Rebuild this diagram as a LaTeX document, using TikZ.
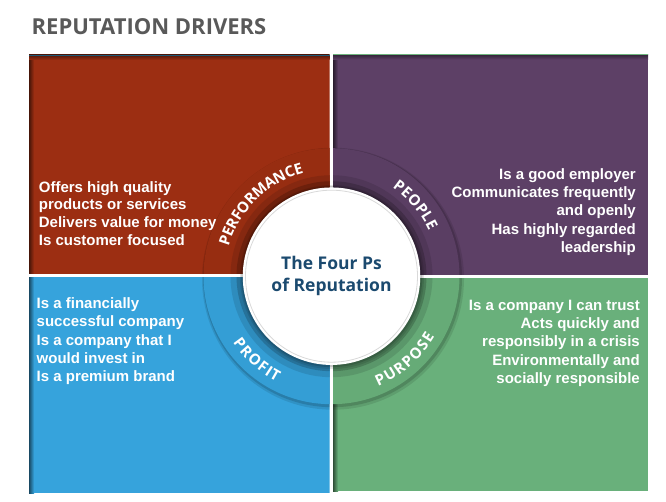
\documentclass[tikz,border=0pt]{standalone}
\usepackage{fontspec}
\setmainfont{Liberation Sans}
\newfontfamily\headfont{Open Sans}
\usetikzlibrary{decorations.text}
\definecolor{qred}{RGB}{156,46,18}
\definecolor{qpurple}{RGB}{93,64,102}
\definecolor{qblue}{RGB}{54,163,220}
\definecolor{qgreen}{RGB}{105,176,123}
\definecolor{titlegray}{RGB}{89,89,89}
\definecolor{navy}{RGB}{27,74,111}
\definecolor{edgeteal}{RGB}{30,90,120}
\definecolor{edgegreen}{RGB}{110,180,125}
\newcommand\quadpanel[5]{%
  \begin{scope}
    \clip (#2,#3) rectangle (#4,#5);
    \fill[#1] (#2,#3) rectangle (#4,#5);
    \shade[left color=#1!45!black, right color=#1] (#2,#3) rectangle (#2+5,#5);
    \fill[black,opacity=.10] (333,222.3) circle (131pt);
    \fill[black,opacity=.14] (332.5,223.3) circle (129.5pt);
    \fill[#1!97!black] (331.5,224.8) circle (128pt);
    \fill[#1!86!black] (331.5,224.8) circle (101pt);
    \fill[#1!70!black] (331.5,224.8) circle (95pt);
  \end{scope}}
\tikzset{
  quadtext/.style={text=white, inner sep=0pt},
  ringlabel/.style={decorate, decoration={text effects along path, text={#1},
      text effects/.cd, text along path, fit text to path,
      characters={text=white, inner sep=0pt, font=\headfont\bfseries\fontsize{15}{15}\selectfont}}},
}
\begin{document}
\begin{tikzpicture}[x=1pt,y=1pt]
\useasboundingbox (0,0) rectangle (666,501);
\fill[white] (0,0) rectangle (666,501);

\node[anchor=base west, inner sep=0pt, text=titlegray,
  font=\headfont\bfseries\fontsize{22}{27}\selectfont] (title) at (31.5,466) {REPUTATION DRIVERS};

% quadrants
\quadpanel{qred}{29}{227}{329.5}{446}
\quadpanel{qpurple}{333}{226}{648}{446.5}
\quadpanel{qblue}{29}{8}{329.5}{223.5}
\quadpanel{qgreen}{333}{10}{648}{222.5}

% top edges
\shade[top color=qred!55!black, bottom color=qred] (29,441) rectangle (329.5,446);
\fill[edgeteal] (29,445) rectangle (329.5,446.3);
\shade[top color=qpurple!55!black, bottom color=qpurple] (333,441.5) rectangle (648,446.5);
\fill[edgegreen] (333,445.6) rectangle (648,447);

% ring labels
\path[ringlabel={PERFORMANCE}] (331.5,224.8) ++(164:107pt) arc[start angle=164, end angle=105, radius=107pt];
\path[ringlabel={PEOPLE}] (331.5,224.8) ++(55.5:107.5pt) arc[start angle=55.5, end angle=25, radius=107.5pt];
\path[ringlabel={PROFIT}] (331.5,224.8) ++(214:119pt) arc[start angle=214, end angle=242.5, radius=119pt];
\path[ringlabel={PURPOSE}] (331.5,224.8) ++(293:119.5pt) arc[start angle=293, end angle=329.5, radius=119.5pt];

% hub
\fill[black,opacity=.10] (332,224) circle (92pt);
\fill[black,opacity=.14] (331.8,224.4) circle (90.5pt);
\node[circle, fill=white, draw=white, line width=1.5pt, minimum size=176pt, inner sep=0pt,
  text=navy, align=center, font=\headfont\bfseries\fontsize{17.5}{22}\selectfont]
  (hub) at (331.5,224.8) {The Four Ps\\of Reputation};
\draw[black!15, line width=0.8pt] (hub.center) circle (86pt);

% quadrant texts
\node[quadtext, anchor=north west, align=left, font=\bfseries\fontsize{15}{17.7}\selectfont]
  (perf) at (38.7,320) {Offers high quality\\products or services\\Delivers value for money\\Is customer focused};
\node[quadtext, anchor=north east, align=right, font=\bfseries\fontsize{15}{18.2}\selectfont]
  (peop) at (636,332.5) {Is a good employer\\Communicates frequently\\and openly\\Has highly regarded\\leadership};
\node[quadtext, anchor=north west, align=left, font=\bfseries\fontsize{15}{18.2}\selectfont]
  (prof) at (36.5,203.3) {Is a financially\\successful company\\Is a company that I\\would invest in\\Is a premium brand};
\node[quadtext, anchor=north east, align=right, font=\bfseries\fontsize{15}{18.2}\selectfont]
  (purp) at (640,201) {Is a company I can trust\\Acts quickly and\\responsibly in a crisis\\Environmentally and\\socially responsible};
\end{tikzpicture}
\end{document}
